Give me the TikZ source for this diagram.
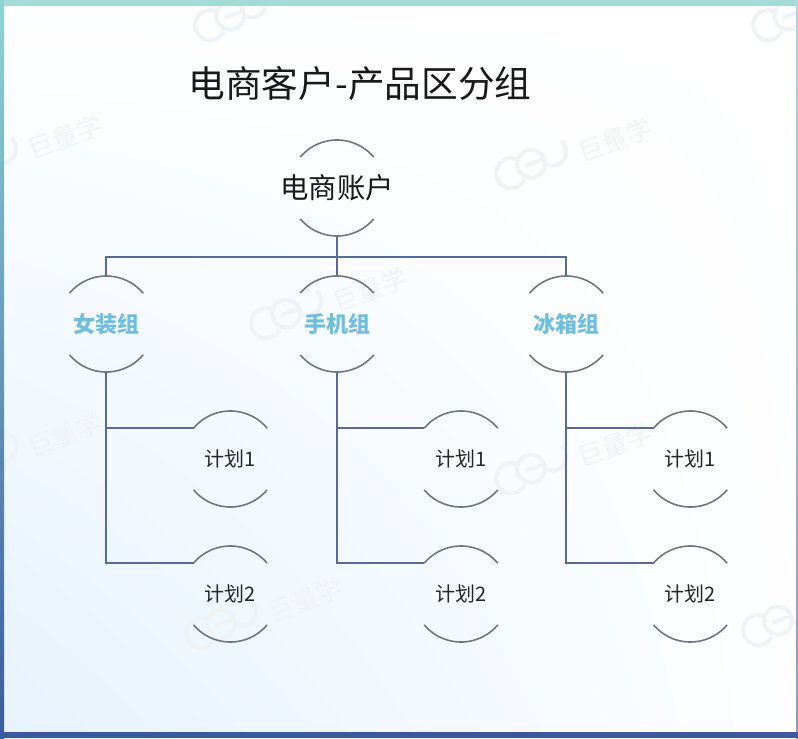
\documentclass[tikz,border=0pt]{standalone}
\usepackage{fontspec}
\setmainfont{Noto Sans CJK SC}
\usetikzlibrary{positioning,shadings}
\definecolor{linkblue}{HTML}{5A6A96}
\definecolor{rimgray}{HTML}{70767F}
\definecolor{groupblue}{HTML}{6FBEDB}
\definecolor{stampgray}{HTML}{F0F3F6}
\definecolor{frametop}{HTML}{A5DAD6}
\definecolor{frameside}{HTML}{8FD3D3}
\definecolor{framelow}{HTML}{3B5A9C}
\definecolor{washblue}{HTML}{E6F2FD}
\newcommand{\widetext}[1]{\makebox[0pt]{#1}}

\begin{document}
\begin{tikzpicture}[
  x=.75pt, y=-.75pt,
  node distance=29.25pt,
  unit/.style={circle, minimum size=72pt, inner sep=0pt, outer sep=0pt},
  account/.style={unit, font=\fontsize{21.3}{25}\selectfont, text=black!90},
  group/.style={unit, font=\fontsize{16.5}{20}\selectfont\bfseries, text=groupblue},
  plan/.style={unit, font=\fontsize{15}{18}\selectfont, text=black!85},
  rim/.style={draw=rimgray, line width=1.2pt},
  link/.style={draw=linkblue, line width=1.4pt},
  stamp/.style={font=\fontsize{19}{22}\selectfont, text=stampgray, rotate=20},
  ring/.style={draw=stampgray, line width=3pt}
]
\useasboundingbox (0,0) rectangle (798,738);
\clip (0,0) rectangle (798,738);
% page
\shade[lower left=washblue, upper left=white, lower right=white!96!washblue, upper right=white] (0,0) rectangle (798,738);
% watermark
\foreach \sx/\sy [count=\i] in {65/137, 615/140, 370/290, 65/435, 615/445, 305/600}
  \node[stamp] (stamp\i) at (\sx,\sy) {巨量学};
\foreach \lx/\ly in {232/15, 533/163, 288/313, 533/468, 223/623, 780/620, 790/15, -17/160, -17/458} {
  \begin{scope}[shift={(\lx,\ly)}, rotate=20]
    \draw[ring] (-24,2) ++(45:15) arc[start angle=45, end angle=315, radius=15];
    \draw[ring] (-2,0) circle[radius=14] (-8,0) -- (12,0);
    \draw[ring] (22,-4) ++(-30:14) arc[start angle=-30, end angle=130, radius=14];
  \end{scope}
}
% frame
\fill[frametop] (0,0) rectangle (798,6);
\shade[top color=frameside, middle color=frameside!75!framelow, bottom color=framelow] (0,0) rectangle (4,738);
\shade[top color=frametop, bottom color=framelow!60] (796,0) rectangle (798,738);
\fill[framelow] (0,732) rectangle (798,738);
% title and tree
\node[font=\fontsize{27.5}{32}\selectfont, text=black!90] (title) at (360,84) {电商客户-产品区分组};
\node[account] (shop) at (337,188) {\widetext{电商账户}};
\node[group, below=30pt of shop] (phone) {\widetext{手机组}};
\node[group, left=101pt of phone] (dress) {\widetext{女装组}};
\node[group, right=100pt of phone] (fridge) {\widetext{冰箱组}};
\foreach \g in {dress, phone, fridge} {
  \node[plan, below=of \g, xshift=93pt] (\g one) {\widetext{计划1}};
  \node[plan, below=of \g one] (\g two) {\widetext{计划2}};
}
\coordinate[below=15.5pt of shop] (bus);
\draw[link] (shop.south) -- (phone.north);
\draw[link] (dress.north) |- (bus) -| (fridge.north);
\foreach \g in {dress, phone, fridge} {
  \draw[link] (\g.south) |- (\g one.140);
  \draw[link] (\g.south) |- (\g two.140);
}
\foreach \n in {shop, dress, phone, fridge, dressone, dresstwo, phoneone, phonetwo, fridgeone, fridgetwo} {
  \draw[rim] (\n.140) arc[start angle=140, end angle=40, radius=36pt];
  \draw[rim] (\n.220) arc[start angle=220, end angle=320, radius=36pt];
}
\end{tikzpicture}
\end{document}
